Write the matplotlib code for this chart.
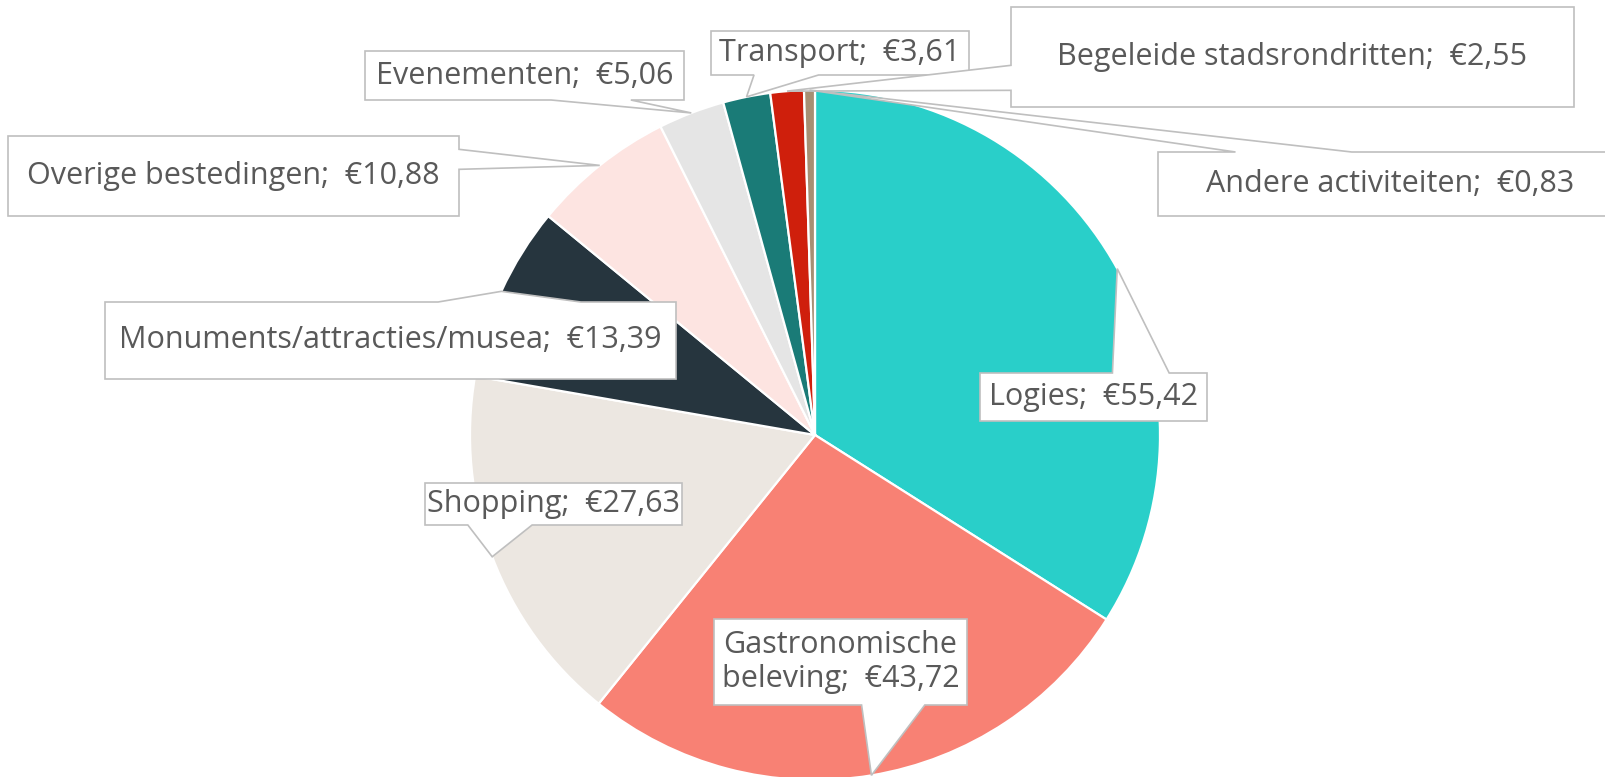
import matplotlib
matplotlib.use("Agg")
import matplotlib.pyplot as plt
from matplotlib.patches import Polygon
import numpy as np

# Data
categories = ["Logies", "Gastronomische\nbeleving", "Shopping", "Monuments/attracties/musea",
              "Overige bestedingen", "Evenementen", "Transport", "Begeleide stadsrondritten",
              "Andere activiteiten"]
values = [55.42, 43.72, 27.63, 13.39, 10.88, 5.06, 3.61, 2.55, 0.83]
colors = ["#29CFC9", "#F88174", "#ECE7E1", "#26353E", "#FDE4E1",
          "#E5E5E5", "#1A7B77", "#CF1F0C", "#A68F73"]

# label boxes in pixel coords (left, top, right, bottom)
boxes = [
    (980, 373, 1207, 421),
    (714, 619, 967, 705),
    (425, 483, 682, 525),
    (105, 302, 676, 379),
    (8, 136, 459, 216),
    (365, 51, 684, 100),
    (711, 31, 969, 75),
    (1011, 7, 1574, 107),
    (1158, 152, 1623, 216),
]

W, H = 1606, 777
cx, cy, rad = 815, 435, 345
text_color = "#595959"
border = "#BFBFBF"

plt.rcParams['font.family'] = ['Open Sans', 'DejaVu Sans']

fig = plt.figure(figsize=(W / 100, H / 100), dpi=100)
ax = fig.add_axes([0, 0, 1, 1])


def fy(y):
    # pixel row -> data y
    return H - y


wedges, _ = ax.pie(values, colors=colors, startangle=90, counterclock=False,
                   center=(cx, fy(cy)), radius=rad,
                   wedgeprops=dict(edgecolor="white", linewidth=1.6))


def callout(box, tip):
    # OOXML wedgeRectCallout shape
    l, t, r, b = box
    w, h = r - l, b - t
    hc, vc = (l + r) / 2, (t + b) / 2
    dx, dy = tip[0] - hc, tip[1] - vc
    dq = dx * h / w
    x1 = l + w * (7 if dx > 0 else 2) / 12
    x2 = l + w * (10 if dx > 0 else 5) / 12
    y1 = t + h * (7 if dy > 0 else 2) / 12
    y2 = t + h * (10 if dy > 0 else 5) / 12
    if abs(dy) - abs(dq) > 0:
        if dy < 0:
            pts = [(l, t), (x1, t), tip, (x2, t), (r, t), (r, b), (l, b)]
        else:
            pts = [(l, t), (r, t), (r, b), (x2, b), tip, (x1, b), (l, b)]
    else:
        if dx > 0:
            pts = [(l, t), (r, t), (r, y1), tip, (r, y2), (r, b), (l, b)]
        else:
            pts = [(l, t), (r, t), (r, b), (l, b), (l, y2), tip, (l, y1)]
    return [(px, fy(py)) for px, py in pts]


for wdg, cat, val, box in zip(wedges, categories, values, boxes):
    mid = np.deg2rad((wdg.theta1 + wdg.theta2) / 2)
    tip = (cx + rad * np.cos(mid), cy - rad * np.sin(mid))
    ax.add_patch(Polygon(callout(box, tip), closed=True, facecolor="white",
                         edgecolor=border, linewidth=1.2, zorder=3))
    lbl = cat + ";  €" + f"{val:.2f}".replace(".", ",")
    tx = (box[0] + min(box[2], W + 17)) / 2
    ax.text(tx, fy((box[1] + box[3]) / 2), lbl, ha="center", va="center",
            fontsize=22, color=text_color, zorder=4, linespacing=1.15)

ax.set_xlim(0, W)
ax.set_ylim(0, H)
ax.set_aspect("equal")
ax.set_axis_off()

plt.savefig("out.png", dpi=100)
